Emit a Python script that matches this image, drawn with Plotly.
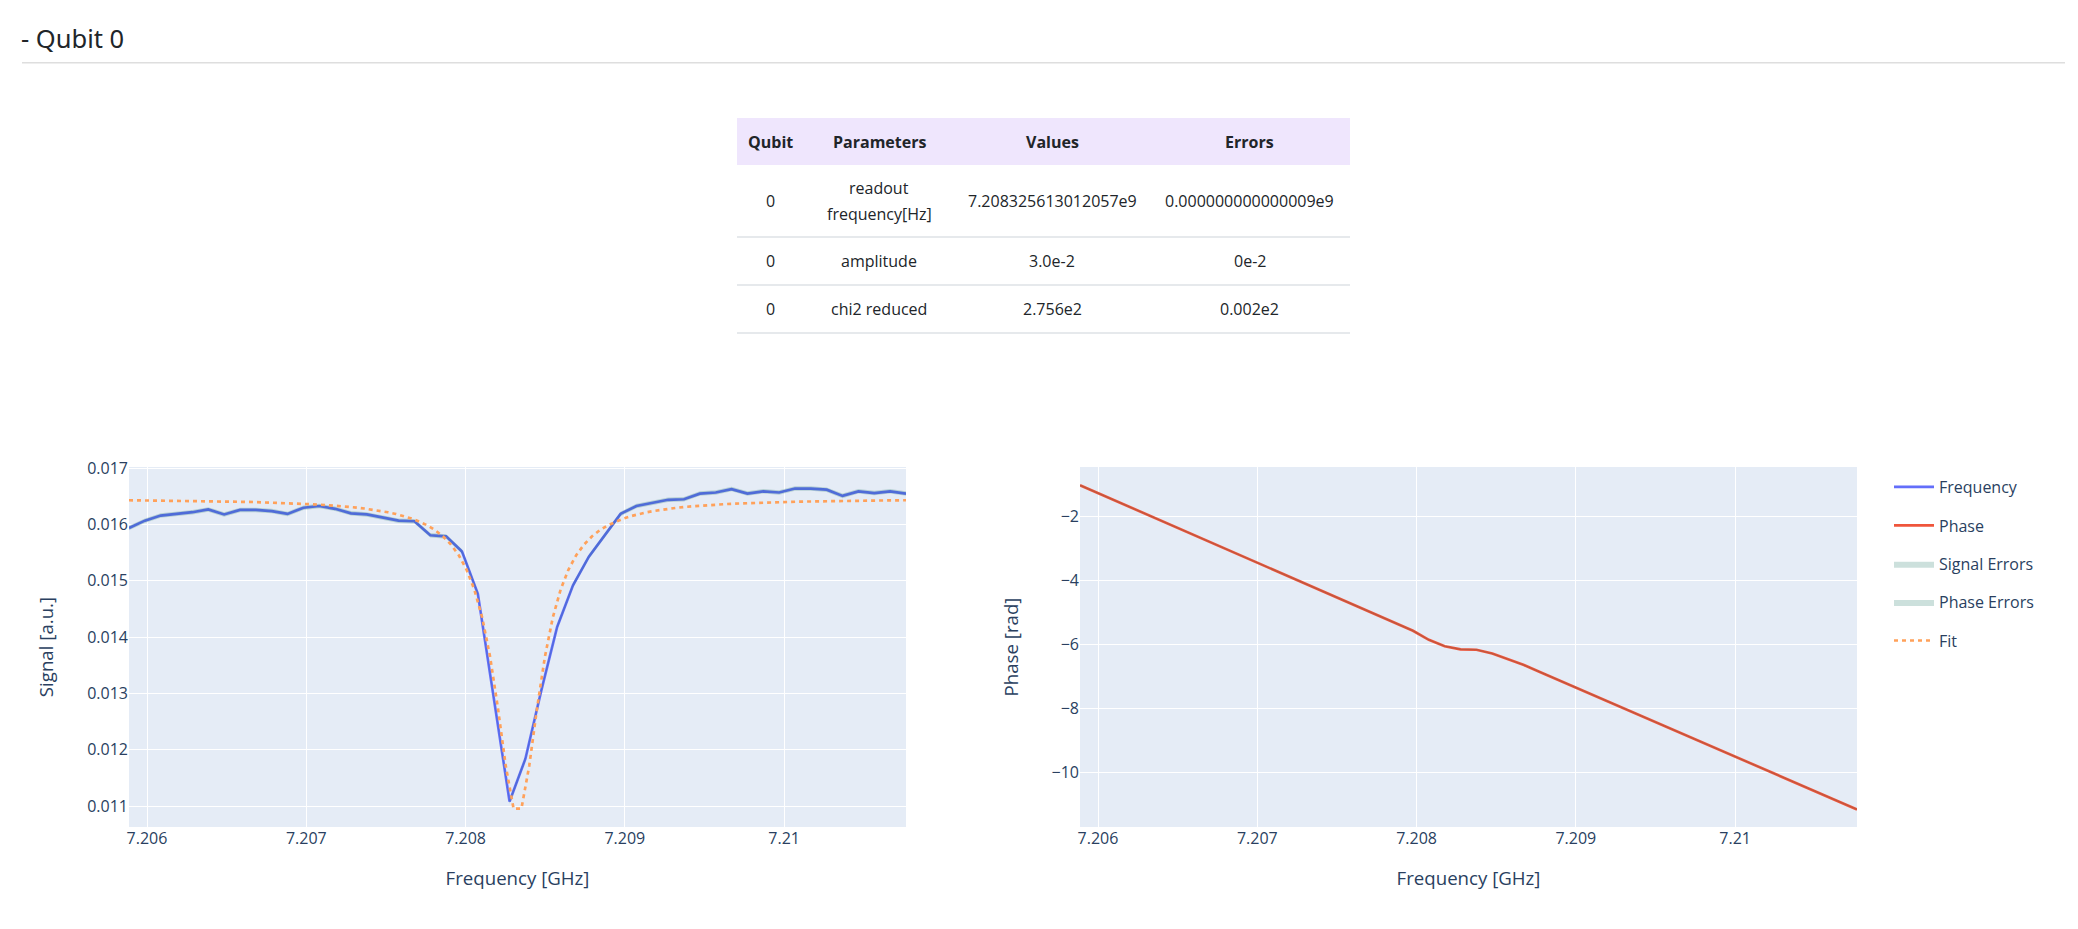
import plotly.graph_objects as go

# ---------------- data ----------------
freq_ghz = [7.2058870, 7.2059866, 7.2060861, 7.2061857, 7.2062852, 7.2063848, 7.2064843, 7.2065839,
            7.2066834, 7.2067830, 7.2068825, 7.2069821, 7.2070816, 7.2071812, 7.2072807, 7.2073803,
            7.2074798, 7.2075794, 7.2076789, 7.2077785, 7.2078780, 7.2079776, 7.2080771, 7.2081767,
            7.2082762, 7.2083758, 7.2084753, 7.2085749, 7.2086744, 7.2087740, 7.2088735, 7.2089731,
            7.2090726, 7.2091722, 7.2092717, 7.2093713, 7.2094708, 7.2095704, 7.2096699, 7.2097695,
            7.2098690, 7.2099686, 7.2100681, 7.2101677, 7.2102672, 7.2103668, 7.2104663, 7.2105659,
            7.2106654, 7.2107650]

signal = [0.01594, 0.01607, 0.01616, 0.01619, 0.01622, 0.01627, 0.01618, 0.01626, 0.01626, 0.01624,
          0.01619, 0.01630, 0.01633, 0.01628, 0.01620, 0.01618, 0.01613, 0.01607, 0.01606, 0.01581,
          0.01579, 0.01552, 0.01477, 0.01293, 0.01108, 0.01184, 0.01305, 0.01418, 0.01492, 0.01543,
          0.01581, 0.01619, 0.01633, 0.01638, 0.01644, 0.01645, 0.01655, 0.01657, 0.01663, 0.01655,
          0.01659, 0.01657, 0.01664, 0.01664, 0.01662, 0.01651, 0.01659, 0.01656, 0.01659, 0.01655]

signal_err = [0.00004, 0.00004, 0.00004, 0.00004, 0.00004, 0.00004, 0.00004, 0.00004, 0.00004, 0.00004,
              0.00004, 0.00004, 0.00004, 0.00004, 0.00004, 0.00004, 0.00004, 0.00004, 0.00004, 0.00004,
              0.00004, 0.00004, 0.00004, 0.00004, 0.00004, 0.00004, 0.00004, 0.00004, 0.00004, 0.00004,
              0.00004, 0.00004, 0.00004, 0.00004, 0.00004, 0.00004, 0.00004, 0.00004, 0.00004, 0.00004,
              0.00004, 0.00004, 0.00004, 0.00004, 0.00004, 0.00004, 0.00004, 0.00004, 0.00004, 0.00004]

phase = [-1.020, -1.237, -1.453, -1.670, -1.886, -2.103, -2.319, -2.536, -2.752, -2.969,
         -3.185, -3.402, -3.618, -3.835, -4.051, -4.268, -4.484, -4.701, -4.917, -5.134,
         -5.350, -5.567, -5.850, -6.050, -6.150, -6.160, -6.280, -6.450, -6.640, -6.855,
         -7.070, -7.285, -7.500, -7.714, -7.929, -8.144, -8.359, -8.574, -8.788, -9.003,
         -9.218, -9.433, -9.648, -9.862, -10.077, -10.292, -10.507, -10.722, -10.936, -11.151]

phase_err = [0.02, 0.02, 0.02, 0.02, 0.02, 0.02, 0.02, 0.02, 0.02, 0.02,
             0.02, 0.02, 0.02, 0.02, 0.02, 0.02, 0.02, 0.02, 0.02, 0.02,
             0.02, 0.02, 0.02, 0.02, 0.02, 0.02, 0.02, 0.02, 0.02, 0.02,
             0.02, 0.02, 0.02, 0.02, 0.02, 0.02, 0.02, 0.02, 0.02, 0.02,
             0.02, 0.02, 0.02, 0.02, 0.02, 0.02, 0.02, 0.02, 0.02, 0.02]

fit_freq_ghz = [7.2058870, 7.2059363, 7.2059855, 7.2060348, 7.2060841, 7.2061334, 7.2061826, 7.2062319,
                7.2062812, 7.2063305, 7.2063797, 7.2064290, 7.2064783, 7.2065275, 7.2065768, 7.2066261,
                7.2066754, 7.2067246, 7.2067739, 7.2068232, 7.2068725, 7.2069217, 7.2069710, 7.2070203,
                7.2070696, 7.2071188, 7.2071681, 7.2072174, 7.2072666, 7.2073159, 7.2073652, 7.2074145,
                7.2074637, 7.2075130, 7.2075623, 7.2076116, 7.2076608, 7.2077101, 7.2077594, 7.2078086,
                7.2078579, 7.2079072, 7.2079565, 7.2080057, 7.2080550, 7.2081043, 7.2081536, 7.2082028,
                7.2082521, 7.2083014, 7.2083507, 7.2083999, 7.2084492, 7.2084985, 7.2085477, 7.2085970,
                7.2086463, 7.2086956, 7.2087448, 7.2087941, 7.2088434, 7.2088927, 7.2089419, 7.2089912,
                7.2090405, 7.2090897, 7.2091390, 7.2091883, 7.2092376, 7.2092868, 7.2093361, 7.2093854,
                7.2094347, 7.2094839, 7.2095332, 7.2095825, 7.2096317, 7.2096810, 7.2097303, 7.2097796,
                7.2098288, 7.2098781, 7.2099274, 7.2099767, 7.2100259, 7.2100752, 7.2101245, 7.2101738,
                7.2102230, 7.2102723, 7.2103216, 7.2103708, 7.2104201, 7.2104694, 7.2105187, 7.2105679,
                7.2106172, 7.2106665, 7.2107158, 7.2107650]

fit_signal = [0.016432, 0.016431, 0.016430, 0.016428, 0.016427, 0.016426, 0.016424, 0.016422, 0.016420, 0.016419,
              0.016416, 0.016414, 0.016412, 0.016409, 0.016406, 0.016403, 0.016400, 0.016396, 0.016392, 0.016387,
              0.016382, 0.016377, 0.016371, 0.016364, 0.016357, 0.016348, 0.016339, 0.016328, 0.016316, 0.016302,
              0.016285, 0.016267, 0.016245, 0.016219, 0.016189, 0.016152, 0.016108, 0.016053, 0.015986, 0.015901,
              0.015791, 0.015649, 0.015459, 0.015202, 0.014846, 0.014349, 0.013656, 0.012745, 0.011714, 0.010952,
              0.010953, 0.011717, 0.012747, 0.013658, 0.014349, 0.014847, 0.015202, 0.015460, 0.015649, 0.015792,
              0.015901, 0.015986, 0.016054, 0.016108, 0.016152, 0.016189, 0.016219, 0.016245, 0.016267, 0.016286,
              0.016302, 0.016316, 0.016328, 0.016339, 0.016348, 0.016357, 0.016364, 0.016371, 0.016377, 0.016382,
              0.016387, 0.016392, 0.016396, 0.016400, 0.016403, 0.016406, 0.016409, 0.016412, 0.016414, 0.016416,
              0.016419, 0.016420, 0.016422, 0.016424, 0.016426, 0.016427, 0.016428, 0.016430, 0.016431, 0.016432]

table_header = ["Qubit", "Parameters", "Values", "Errors"]
table_qubit = ["0", "0", "0"]
table_params = ["readout<br>frequency[Hz]", "amplitude", "chi2 reduced"]
table_values = ["7.208325613012057e9", "3.0e-2", "2.756e2"]
table_errors = ["0.000000000000009e9", "0e-2", "0.002e2"]

title_text = "- Qubit 0"

# ---------------- layout constants (pixels) ----------------
W, H = 2078, 929
def px(x):
    return x / W
def py(y):
    return 1 - y / H

FONT = "Open Sans"
AX_COLOR = "#2a3f5f"
TXT = "#212529"

# table geometry
col_edges = [737, 803, 955, 1149, 1350]
header_rows = (118, 165)
row_edges = [165, 237, 285, 333]
line_pitch = 26

fig = go.Figure()

fig.add_trace(go.Scatter(x=freq_ghz, y=signal, mode="lines", name="Frequency",
                         line=dict(color="#636EFA", width=2.67), legendgroup="Frequency",
                         xaxis="x", yaxis="y"))
fig.add_trace(go.Scatter(x=freq_ghz, y=phase, mode="lines", name="Phase",
                         line=dict(color="#EF553B", width=2.67), legendgroup="Phase",
                         xaxis="x2", yaxis="y2"))
sig_hi = [s + e for s, e in zip(signal, signal_err)]
sig_lo = [s - e for s, e in zip(signal, signal_err)]
fig.add_trace(go.Scatter(x=freq_ghz + freq_ghz[::-1], y=sig_hi + sig_lo[::-1],
                         fill="toself", fillcolor="rgba(0,100,80,0.2)",
                         line=dict(color="rgba(255,255,255,0)"), hoverinfo="skip",
                         name="Signal Errors", legendgroup="Signal Errors",
                         xaxis="x", yaxis="y"))
ph_hi = [p + e for p, e in zip(phase, phase_err)]
ph_lo = [p - e for p, e in zip(phase, phase_err)]
fig.add_trace(go.Scatter(x=freq_ghz + freq_ghz[::-1], y=ph_hi + ph_lo[::-1],
                         fill="toself", fillcolor="rgba(0,100,80,0.2)",
                         line=dict(color="rgba(255,255,255,0)"), hoverinfo="skip",
                         name="Phase Errors", legendgroup="Phase Errors",
                         xaxis="x2", yaxis="y2"))
fig.add_trace(go.Scatter(x=fit_freq_ghz, y=fit_signal, mode="lines", name="Fit",
                         line=dict(color="#FFA15A", width=2.67, dash="4px,4px"), legendgroup="Fit",
                         xaxis="x", yaxis="y"))

# ---------------- table (header band, separators, text) ----------------
shapes = [
    dict(type="line", xref="paper", yref="paper", x0=px(22), x1=px(2065),
         y0=py(62.7), y1=py(62.7), line=dict(color="#DEDEDE", width=1.5)),
    dict(type="rect", xref="paper", yref="paper", x0=px(col_edges[0]), x1=px(col_edges[-1]),
         y0=py(header_rows[1]), y1=py(header_rows[0]), fillcolor="#EFE6FD", line=dict(width=0),
         layer="below"),
]
for yb in row_edges[1:]:
    shapes.append(dict(type="line", xref="paper", yref="paper", x0=px(col_edges[0]),
                       x1=px(col_edges[-1]), y0=py(yb), y1=py(yb),
                       line=dict(color="#DEE2E6", width=1.3)))

annotations = [dict(text=title_text, x=px(19), y=py(37.5), xref="paper", yref="paper",
                    xanchor="left", yanchor="middle", showarrow=False,
                    font=dict(family="Noto Sans", size=25.5, color=TXT))]

def add_cell(text, ci, yc, bold=False):
    xc = (col_edges[ci] + col_edges[ci + 1]) / 2
    lines = text.split("<br>")
    n = len(lines)
    for k, ln in enumerate(lines):
        yy = yc + (k - (n - 1) / 2) * line_pitch
        annotations.append(dict(text=("<b>%s</b>" % ln) if bold else ln,
                                x=px(xc), y=py(yy), xref="paper", yref="paper",
                                xanchor="center", yanchor="middle", showarrow=False,
                                font=dict(family=FONT, size=16, color=TXT)))

hy = (header_rows[0] + header_rows[1]) / 2
for ci, h in enumerate(table_header):
    add_cell(h, ci, hy, bold=True)
columns = [table_qubit, table_params, table_values, table_errors]
for ri in range(len(table_qubit)):
    yc = (row_edges[ri] + row_edges[ri + 1]) / 2
    for ci, col in enumerate(columns):
        add_cell(col[ri], ci, yc)

tick_font = dict(family=FONT, size=16, color=AX_COLOR)
title_font = dict(family=FONT, size=18.67, color=AX_COLOR)
xr = [7.205887, 7.210765]
common_x = dict(range=xr, showgrid=True, gridcolor="white", gridwidth=1.3,
                tickfont=tick_font, zeroline=False, ticks="", automargin=False,
                tick0=7.206, dtick=0.001,
                title=dict(text="Frequency [GHz]", font=title_font, standoff=23))
common_y = dict(showgrid=True, gridcolor="white", gridwidth=1.3, tickfont=tick_font,
                zeroline=False, ticks="", automargin=False, domain=[py(827), py(467)])

fig.update_layout(
    width=W, height=H,
    margin=dict(l=0, r=0, t=0, b=0),
    paper_bgcolor="white", plot_bgcolor="#E5ECF6",
    font=dict(family=FONT, size=16, color=AX_COLOR),
    xaxis=dict(domain=[px(129), px(906)], anchor="y", **common_x),
    yaxis=dict(anchor="x", range=[0.010627, 0.017023],
               title=dict(text="Signal [a.u.]", font=title_font, standoff=28), **common_y),
    xaxis2=dict(domain=[px(1080), px(1857)], anchor="y2", **common_x),
    yaxis2=dict(anchor="x2", range=[-11.7, -0.45],
                title=dict(text="Phase [rad]", font=title_font, standoff=28), **common_y),
    legend=dict(x=px(1889), xanchor="left", y=py(470), yanchor="top",
                font=dict(family=FONT, size=16, color=AX_COLOR),
                tracegroupgap=14.6, itemwidth=40, bgcolor="rgba(0,0,0,0)"),
    annotations=annotations,
    shapes=shapes,
)

fig.write_html("out.html")
